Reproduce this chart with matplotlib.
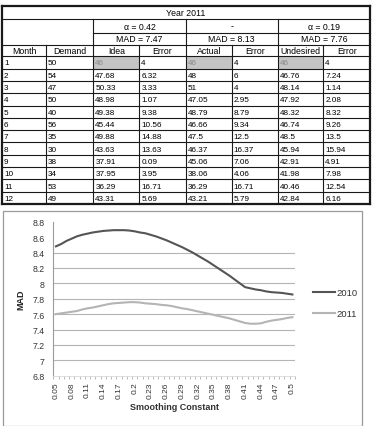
import matplotlib.pyplot as plt
from matplotlib.patches import Rectangle

# table values (Year 2011)
months = ["1", "2", "3", "4", "5", "6", "7", "8", "9", "10", "11", "12"]
demand = ["50", "54", "47", "50", "40", "56", "35", "30", "38", "34", "53", "49"]
idea = ["46", "47.68", "50.33", "48.98", "49.38", "45.44", "49.88", "43.63", "37.91", "37.95", "36.29", "43.31"]
idea_err = ["4", "6.32", "3.33", "1.07", "9.38", "10.56", "14.88", "13.63", "0.09", "3.95", "16.71", "5.69"]
actual = ["46", "48", "51", "47.05", "48.79", "46.66", "47.5", "46.37", "45.06", "38.06", "36.29", "43.21"]
actual_err = ["4", "6", "4", "2.95", "8.79", "9.34", "12.5", "16.37", "7.06", "4.06", "16.71", "5.79"]
undesired = ["46", "46.76", "48.14", "47.92", "48.32", "46.74", "48.5", "45.94", "42.91", "41.98", "40.46", "42.84"]
undesired_err = ["4", "7.24", "1.14", "2.08", "8.32", "9.26", "13.5", "15.94", "4.91", "7.98", "12.54", "6.16"]
col_names = ["Month", "Demand", "Idea", "Error", "Actual", "Error", "Undesired", "Error"]
alpha_labels = ["\u03b1 = 0.42", "-", "\u03b1 = 0.19"]
mad_labels = ["MAD = 7.47", "MAD = 8.13", "MAD = 7.76"]

# chart values
smoothing = ["0.05", "0.06", "0.07", "0.08", "0.09", "0.1", "0.11", "0.12", "0.13", "0.14",
             "0.15", "0.16", "0.17", "0.18", "0.19", "0.2", "0.21", "0.22", "0.23", "0.24",
             "0.25", "0.26", "0.27", "0.28", "0.29", "0.3", "0.31", "0.32", "0.33", "0.34",
             "0.35", "0.36", "0.37", "0.38", "0.39", "0.4", "0.41", "0.42", "0.43", "0.44",
             "0.45", "0.46", "0.47", "0.48", "0.49", "0.5"]
mad_2010 = [8.48, 8.51, 8.55, 8.58, 8.61, 8.63, 8.645, 8.66, 8.67, 8.68,
            8.685, 8.69, 8.69, 8.69, 8.685, 8.675, 8.66, 8.65, 8.63, 8.61,
            8.585, 8.56, 8.53, 8.50, 8.47, 8.435, 8.40, 8.36, 8.32, 8.28,
            8.235, 8.19, 8.145, 8.10, 8.05, 8.00, 7.95, 7.935, 7.92, 7.91,
            7.895, 7.885, 7.88, 7.875, 7.865, 7.855]
mad_2011 = [7.60, 7.61, 7.62, 7.63, 7.64, 7.66, 7.675, 7.685, 7.70, 7.715,
            7.73, 7.74, 7.745, 7.75, 7.755, 7.755, 7.75, 7.74, 7.735, 7.73,
            7.72, 7.715, 7.705, 7.69, 7.675, 7.665, 7.65, 7.635, 7.62, 7.605,
            7.59, 7.575, 7.56, 7.545, 7.525, 7.505, 7.485, 7.475, 7.475, 7.48,
            7.50, 7.515, 7.525, 7.535, 7.55, 7.56]

W, H = 374, 427
plt.rcParams['font.family'] = ['Liberation Sans', 'DejaVu Sans']
fig = plt.figure(figsize=(W / 100, H / 100), dpi=100)

# ---------- table (pixel coordinates) ----------
tab = fig.add_axes([0, 0, 1, 1])
tab.set_xlim(0, W)
tab.set_ylim(H, 0)
tab.axis('off')

xs = [2, 46, 93.3, 139.3, 185.7, 231.7, 277.7, 323.3, 370]
hdr = [7.3, 20, 34, 46, 57.3]
row_h = (205 - 57.3) / 12
ys = hdr + [57.3 + row_h * (i + 1) for i in range(12)]
fs_data = 5.9
fs_head = 6.3
lc = '#1a1a1a'

columns = [months, demand, idea, idea_err, actual, actual_err, undesired, undesired_err]
for r in range(12):
    y0, y1 = ys[4 + r], ys[5 + r]
    for c, col in enumerate(columns):
        grey = (r == 0 and c in (2, 4, 6))
        if grey:
            tab.add_patch(Rectangle((xs[c], y0), xs[c + 1] - xs[c], y1 - y0,
                                    facecolor='#c4c4c4', edgecolor='none'))
        tab.text(xs[c] + 2, (y0 + y1) / 2 + 0.5, col[r], fontsize=fs_data,
                 color='#8a8a8a' if grey else '#000000', ha='left', va='center')

# header texts
tab.text((xs[0] + xs[-1]) / 2, (hdr[0] + hdr[1]) / 2, "Year 2011", fontsize=fs_head, ha='center', va='center')
for k in range(3):
    xa, xb = xs[2 + 2 * k], xs[4 + 2 * k]
    tab.text((xa + xb) / 2, (hdr[1] + hdr[2]) / 2, alpha_labels[k], fontsize=fs_head, ha='center', va='center')
    tab.text((xa + xb) / 2, (hdr[2] + hdr[3]) / 2, mad_labels[k], fontsize=fs_head, ha='center', va='center')
for c, name in enumerate(col_names):
    tab.text((xs[c] + xs[c + 1]) / 2, (hdr[3] + hdr[4]) / 2, name, fontsize=fs_head, ha='center', va='center')

# grid lines of the table
for i, y in enumerate(ys):
    if i == 2:
        tab.plot([xs[2], xs[-1]], [y, y], color=lc, lw=0.8)
    elif i in (0, len(ys) - 1):
        tab.plot([xs[0], xs[-1]], [y, y], color=lc, lw=1.6)
    else:
        tab.plot([xs[0], xs[-1]], [y, y], color=lc, lw=0.8)
for c, x in enumerate(xs):
    if c in (0, len(xs) - 1):
        tab.plot([x, x], [ys[0], ys[-1]], color=lc, lw=1.6)
    elif c in (2, 4, 6):
        tab.plot([x, x], [hdr[1], ys[-1]], color=lc, lw=0.8)
    else:
        tab.plot([x, x], [hdr[3], ys[-1]], color=lc, lw=0.8)

# chart frame
tab.add_patch(Rectangle((3.3, 211.5), 358.4, 215, facecolor='none', edgecolor='#9a9a9a', lw=0.9))

# ---------- line chart ----------
left, right = 53.3, 295
top, bottom = 222.7, 376.7
ax = fig.add_axes([left / W, 1 - bottom / H, (right - left) / W, (bottom - top) / H])
x = list(range(len(smoothing)))

for g in [7.0, 7.2, 7.4, 7.6, 7.8, 8.0, 8.2, 8.4]:
    ax.axhline(g, color='#b5b5b5', lw=0.8, zorder=0)

ax.plot(x, mad_2010, color='#555555', lw=1.5, label='2010')
ax.plot(x, mad_2011, color='#b4b4b4', lw=1.5, label='2011')

ax.set_xlim(-0.5, len(smoothing) - 0.5)
ax.set_ylim(6.8, 8.8)
ax.set_yticks([6.8, 7.0, 7.2, 7.4, 7.6, 7.8, 8.0, 8.2, 8.4, 8.6, 8.8])
ax.set_yticklabels(['6.8', '7', '7.2', '7.4', '7.6', '7.8', '8', '8.2', '8.4', '8.6', '8.8'],
                   fontsize=6.3, color='#333333')
ax.set_xticks(x[::3])
ax.set_xticklabels(smoothing[::3], rotation=90, fontsize=6, color='#333333')
ax.set_xticks([i - 0.5 for i in range(len(smoothing) + 1)], minor=True)
ax.tick_params(axis='y', length=0, pad=6)
ax.tick_params(axis='x', which='major', length=0, pad=4)
ax.tick_params(axis='x', which='minor', length=2.5, color='#b0b0b0', width=0.6)

for s in ['top', 'right']:
    ax.spines[s].set_visible(False)
ax.spines['left'].set_color('#9a9a9a')
ax.spines['left'].set_linewidth(0.8)
ax.spines['bottom'].set_color('#d8d8d8')
ax.spines['bottom'].set_linewidth(0.6)

ax.set_ylabel('MAD', fontsize=6.5, fontweight='bold', color='#222222', labelpad=5)
ax.set_xlabel('Smoothing Constant', fontsize=6.5, fontweight='bold', color='#333333', labelpad=3)

ax.legend(loc='center left', bbox_to_anchor=(1.04, 0.47), frameon=False, fontsize=6.8,
          handlelength=2.3, handletextpad=0.15, labelspacing=1.3, labelcolor='#333333')

fig.savefig('out.png', dpi=100)
